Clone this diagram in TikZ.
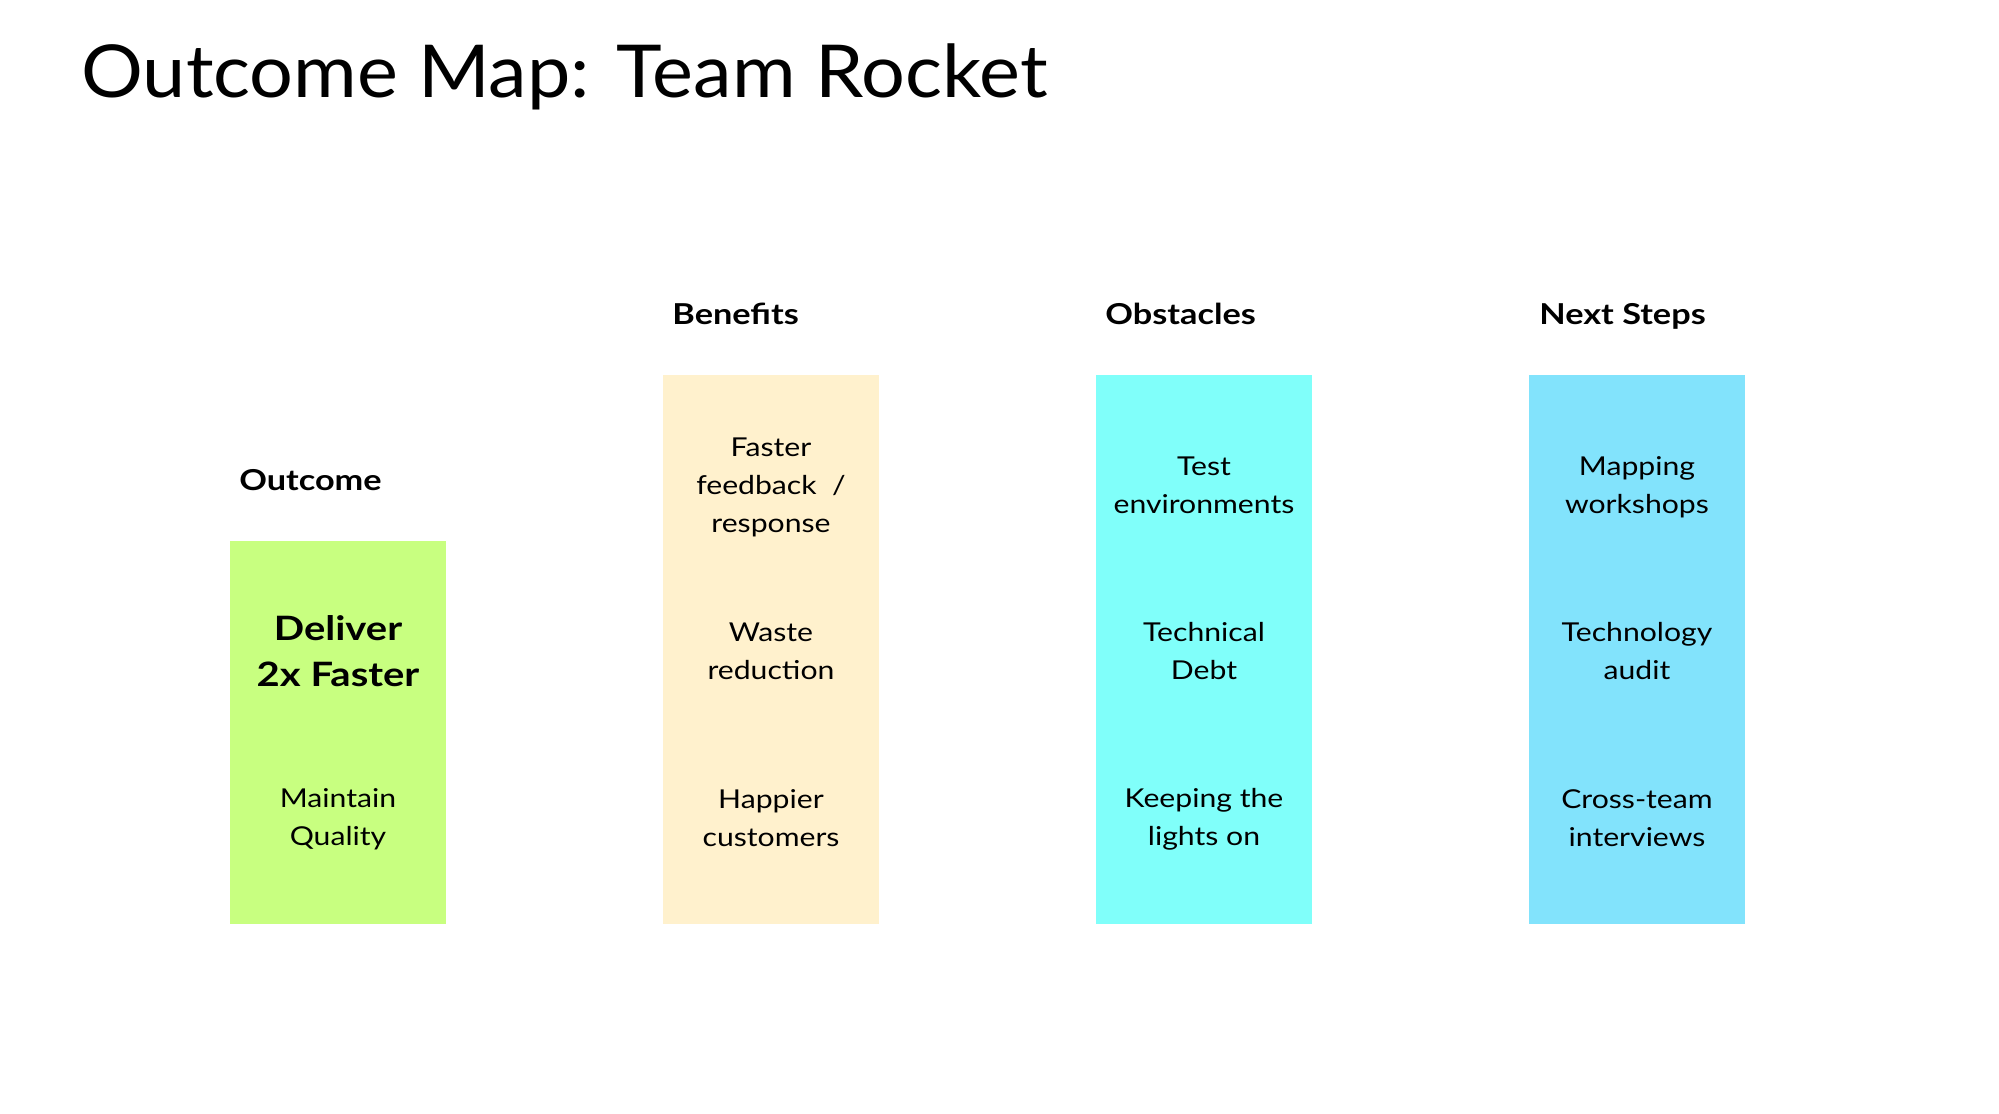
\documentclass[tikz,border=0pt]{standalone}
\usepackage{fontspec}
\setmainfont{Lato}
\newfontfamily\titlefont{Lato}[FakeStretch=1.06]
\newfontfamily\cardfont{Lato}[FakeStretch=1.16]
\newfontfamily\headfont{Lato}[FakeStretch=1.19]
\usepackage{tikz}
\usetikzlibrary{positioning}

\definecolor{outcomegreen}{RGB}{200,255,128}
\definecolor{benefitcream}{RGB}{255,241,205}
\definecolor{obstaclecyan}{RGB}{128,255,250}
\definecolor{stepblue}{RGB}{130,227,252}

\begin{document}
\begin{tikzpicture}[x=0.5pt,y=0.5pt,yscale=-1,xscale=1,
  card/.style={draw=none,inner sep=0pt,minimum width=108pt,anchor=north west},
  cardtext/.style={align=center,inner sep=0pt,font=\cardfont\fontsize{13}{19}\selectfont},
  colhead/.style={anchor=base west,inner sep=0pt,font=\headfont\fontsize{14.4}{17}\selectfont\bfseries}]
\useasboundingbox (0,0) rectangle (1999,1114);

% Title
\node (title) [anchor=base west,inner sep=0pt,font=\titlefont\fontsize{36.5}{44}\selectfont] at (81,97) {Outcome Map: Team Rocket};

%Shape: Rectangle [outcome]
\node (outcome) [card,fill=outcomegreen,minimum height=191.5pt] at (230,541) {};
%Shape: Rectangle [benefits]
\node (benefits) [card,fill=benefitcream,minimum height=274.5pt] at (663,375) {};
%Shape: Rectangle [obstacles]
\node (obstacles) [card,fill=obstaclecyan,minimum height=274.5pt] at (1096,375) {};
%Shape: Rectangle [next steps]
\node (nextsteps) [card,fill=stepblue,minimum height=274.5pt] at (1529,375) {};

% Text Node
\node (outcomehead) [colhead] at (239,490) {Outcome};
% Text Node
\node (benefitshead) [colhead] at (672,324) {Benefits};
% Text Node
\node (obstacleshead) [colhead] at (1105,324) {Obstacles};
% Text Node
\node (nextstepshead) [colhead] at (1539,324) {Next Steps};

% Text Node
\node (deliver) [align=center,inner sep=0pt,font=\headfont\fontsize{16.8}{23}\selectfont\bfseries] at (338,651) {Deliver\\2x Faster};
% Text Node
\node (quality) [cardtext] at (338,819) {Maintain\\Quality};

% Text Node
\node (feedback) [cardtext] at (771,487) {Faster\\feedback\ \ /\\response};
% Text Node
\node (waste) [cardtext] at (771,651) {Waste\\reduction};
% Text Node
\node (happier) [cardtext] at (771,818) {Happier\\customers};

% Text Node
\node (testenv) [cardtext] at (1204,485) {Test\\environments};
% Text Node
\node (techdebt) [cardtext] at (1204,651) {Technical\\Debt};
% Text Node
\node (lights) [cardtext] at (1204,819) {Keeping the\\lights on};

% Text Node
\node (mapping) [cardtext] at (1637,487) {Mapping\\workshops};
% Text Node
\node (audit) [cardtext] at (1637,651) {Technology\\audit};
% Text Node
\node (interviews) [cardtext] at (1637,818) {Cross-team\\interviews};

\end{tikzpicture}
\end{document}
